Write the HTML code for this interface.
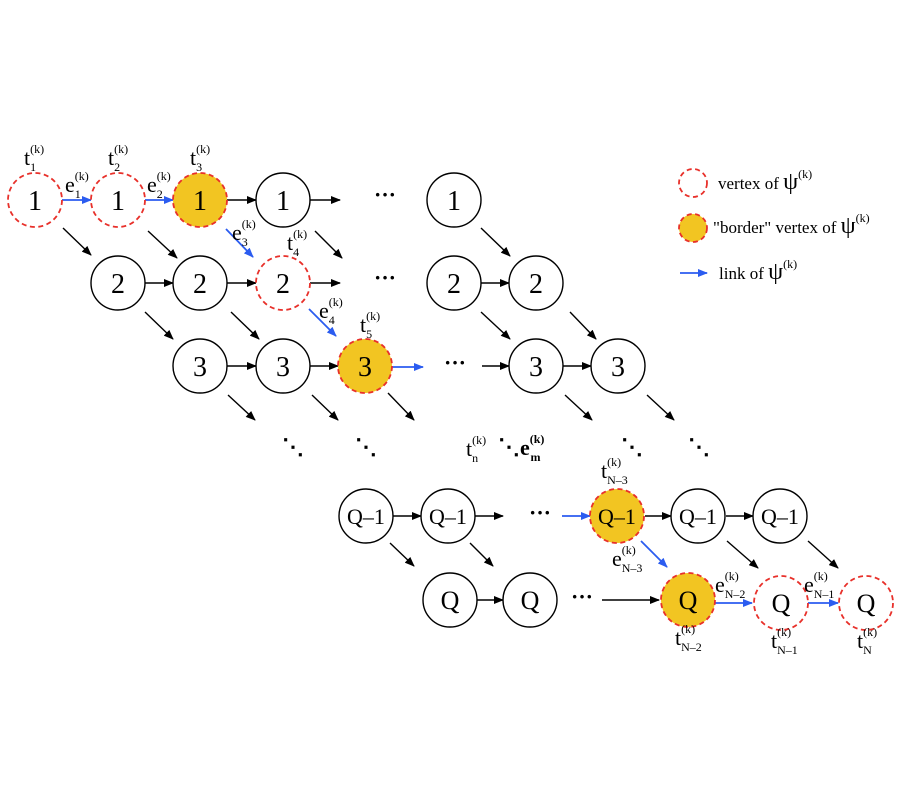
<!DOCTYPE html>
<html><head><meta charset="utf-8"><style>
html,body{margin:0;padding:0;background:#fff;}
svg{display:block;font-family:"Liberation Serif",serif;}
</style></head><body>
<svg width="900" height="800" viewBox="0 0 900 800" xmlns="http://www.w3.org/2000/svg">
<defs>
<marker id="ab" markerWidth="10" markerHeight="8" refX="9" refY="4" orient="auto" markerUnits="userSpaceOnUse"><path d="M0,0 L10,4 L0,8 z" fill="#000"/></marker>
<marker id="au" markerWidth="10" markerHeight="8" refX="9" refY="4" orient="auto" markerUnits="userSpaceOnUse"><path d="M0,0 L10,4 L0,8 z" fill="#2b5cf0"/></marker>
</defs>
<g fill="none" stroke-width="1.4">
<g stroke="#000" marker-end="url(#ab)">
<line x1="227" y1="200" x2="256" y2="200"/><line x1="310" y1="200" x2="340" y2="200"/>
<line x1="63" y1="228" x2="91" y2="255"/><line x1="148" y1="231" x2="177" y2="258"/><line x1="315" y1="231" x2="342" y2="258"/><line x1="481" y1="228" x2="510" y2="256"/>
<line x1="145" y1="283" x2="173" y2="283"/><line x1="227" y1="283" x2="256" y2="283"/><line x1="310" y1="283" x2="340" y2="283"/><line x1="481" y1="283" x2="509" y2="283"/>
<line x1="145" y1="312" x2="173" y2="339"/><line x1="231" y1="312" x2="259" y2="339"/><line x1="481" y1="312" x2="510" y2="339"/><line x1="570" y1="312" x2="596" y2="339"/>
<line x1="227" y1="366" x2="256" y2="366"/><line x1="310" y1="366" x2="338" y2="366"/><line x1="482" y1="366" x2="509" y2="366"/><line x1="563" y1="366" x2="591" y2="366"/>
<line x1="228" y1="395" x2="255" y2="420"/><line x1="312" y1="395" x2="338" y2="420"/><line x1="388" y1="393" x2="414" y2="420"/><line x1="565" y1="395" x2="592" y2="420"/><line x1="647" y1="395" x2="674" y2="420"/>
<line x1="393" y1="516" x2="421" y2="516"/><line x1="475" y1="516" x2="503" y2="516"/><line x1="645" y1="516" x2="671" y2="516"/><line x1="726" y1="516" x2="753" y2="516"/>
<line x1="390" y1="543" x2="414" y2="566"/><line x1="470" y1="543" x2="493" y2="566"/><line x1="727" y1="541" x2="758" y2="568"/><line x1="808" y1="541" x2="838" y2="568"/>
<line x1="476" y1="600" x2="503" y2="600"/><line x1="602" y1="600" x2="659" y2="600"/>
</g>
<g stroke="#2b5cf0" stroke-width="1.8" marker-end="url(#au)">
<line x1="62" y1="200" x2="91" y2="200"/><line x1="145" y1="200" x2="173" y2="200"/>
<line x1="226" y1="229" x2="253" y2="257"/><line x1="309" y1="309" x2="336" y2="336"/>
<line x1="392" y1="367" x2="423" y2="367"/><line x1="562" y1="516" x2="590" y2="516"/>
<line x1="641" y1="541" x2="667" y2="567"/><line x1="715" y1="603" x2="752" y2="603"/><line x1="808" y1="603" x2="838" y2="603"/>
<line x1="680" y1="273" x2="707" y2="273"/>
</g>
<g stroke="#000" fill="#fff">
<circle cx="283" cy="200" r="27"/><circle cx="454" cy="200" r="27"/>
<circle cx="118" cy="283" r="27"/><circle cx="200" cy="283" r="27"/><circle cx="454" cy="283" r="27"/><circle cx="536" cy="283" r="27"/>
<circle cx="200" cy="366" r="27"/><circle cx="283" cy="366" r="27"/><circle cx="536" cy="366" r="27"/><circle cx="618" cy="366" r="27"/>
<circle cx="366" cy="516" r="27"/><circle cx="448" cy="516" r="27"/><circle cx="698" cy="516" r="27"/><circle cx="780" cy="516" r="27"/>
<circle cx="450" cy="600" r="27"/><circle cx="530" cy="600" r="27"/>
</g>
<g stroke="#e8302a" stroke-dasharray="5,3.5" stroke-width="1.8" fill="#fff">
<circle cx="35" cy="200" r="27"/><circle cx="118" cy="200" r="27"/><circle cx="283" cy="283" r="27"/>
<circle cx="781" cy="603" r="27"/><circle cx="866" cy="603" r="27"/>
<circle cx="693" cy="183" r="14"/>
</g>
<g stroke="#e8302a" stroke-dasharray="5,3.5" stroke-width="1.8" fill="#f2c522">
<circle cx="200" cy="200" r="27"/><circle cx="365" cy="366" r="27"/><circle cx="617" cy="516" r="27"/><circle cx="688" cy="600" r="27"/>
<circle cx="693" cy="228" r="14"/>
</g>
</g>
<g font-size="28" text-anchor="middle" fill="#000">
<text x="35" y="210">1</text><text x="118" y="210">1</text><text x="200" y="210">1</text><text x="283" y="210">1</text><text x="454" y="210">1</text>
<text x="118" y="293">2</text><text x="200" y="293">2</text><text x="283" y="293">2</text><text x="454" y="293">2</text><text x="536" y="293">2</text>
<text x="200" y="376">3</text><text x="283" y="376">3</text><text x="365" y="376">3</text><text x="536" y="376">3</text><text x="618" y="376">3</text>
</g>
<g font-size="22" text-anchor="middle">
<text x="366" y="524">Q–1</text><text x="448" y="524">Q–1</text><text x="617" y="524">Q–1</text><text x="698" y="524">Q–1</text><text x="780" y="524">Q–1</text>
<text x="450" y="609" font-size="26">Q</text><text x="530" y="609" font-size="26">Q</text><text x="688" y="609" font-size="26">Q</text><text x="781" y="612" font-size="26">Q</text><text x="866" y="612" font-size="26">Q</text>
</g>
<g font-size="22" font-weight="bold" text-anchor="middle">
<text x="385" y="202">···</text><text x="385" y="285">···</text><text x="455" y="370">···</text><text x="540" y="520">···</text><text x="582" y="604">···</text>
</g>
<g font-size="22" font-weight="bold">
<text x="282" y="454">⋱</text><text x="355" y="454">⋱</text><text x="498" y="454">⋱</text><text x="621" y="454">⋱</text><text x="688" y="454">⋱</text>
</g>
<g font-size="22">
<text x="24" y="165">t<tspan font-size="12" dy="-12">(k)</tspan><tspan font-size="12" dx="-14" dy="18">1</tspan></text>
<text x="108" y="165">t<tspan font-size="12" dy="-12">(k)</tspan><tspan font-size="12" dx="-14" dy="18">2</tspan></text>
<text x="190" y="165">t<tspan font-size="12" dy="-12">(k)</tspan><tspan font-size="12" dx="-14" dy="18">3</tspan></text>
<text x="287" y="250">t<tspan font-size="12" dy="-12">(k)</tspan><tspan font-size="12" dx="-14" dy="18">4</tspan></text>
<text x="360" y="332">t<tspan font-size="12" dy="-12">(k)</tspan><tspan font-size="12" dx="-14" dy="18">5</tspan></text>
<text x="466" y="456">t<tspan font-size="12" dy="-12">(k)</tspan><tspan font-size="12" dx="-14" dy="18">n</tspan></text>
<text x="601" y="478">t<tspan font-size="12" dy="-12">(k)</tspan><tspan font-size="12" dx="-14" dy="18">N–3</tspan></text>
<text x="675" y="645">t<tspan font-size="12" dy="-12">(k)</tspan><tspan font-size="12" dx="-14" dy="18">N–2</tspan></text>
<text x="771" y="648">t<tspan font-size="12" dy="-12">(k)</tspan><tspan font-size="12" dx="-14" dy="18">N–1</tspan></text>
<text x="857" y="648">t<tspan font-size="12" dy="-12">(k)</tspan><tspan font-size="12" dx="-14" dy="18">N</tspan></text>
<text x="65" y="192">e<tspan font-size="12" dy="-12">(k)</tspan><tspan font-size="12" dx="-14" dy="18">1</tspan></text>
<text x="147" y="192">e<tspan font-size="12" dy="-12">(k)</tspan><tspan font-size="12" dx="-14" dy="18">2</tspan></text>
<text x="232" y="240">e<tspan font-size="12" dy="-12">(k)</tspan><tspan font-size="12" dx="-14" dy="18">3</tspan></text>
<text x="319" y="318">e<tspan font-size="12" dy="-12">(k)</tspan><tspan font-size="12" dx="-14" dy="18">4</tspan></text>
<text x="520" y="455" font-weight="bold">e<tspan font-size="12" dy="-12">(k)</tspan><tspan font-size="12" dx="-14" dy="18">m</tspan></text>
<text x="612" y="566">e<tspan font-size="12" dy="-12">(k)</tspan><tspan font-size="12" dx="-14" dy="18">N–3</tspan></text>
<text x="715" y="592">e<tspan font-size="12" dy="-12">(k)</tspan><tspan font-size="12" dx="-14" dy="18">N–2</tspan></text>
<text x="804" y="592">e<tspan font-size="12" dy="-12">(k)</tspan><tspan font-size="12" dx="-14" dy="18">N–1</tspan></text>
</g>
<g font-size="17">
<text x="718" y="189">vertex of <tspan font-size="24">ψ</tspan><tspan font-size="12" dy="-11">(k)</tspan></text>
<text x="713" y="233">"border" vertex of <tspan font-size="24">ψ</tspan><tspan font-size="12" dy="-11">(k)</tspan></text>
<text x="719" y="279">link of <tspan font-size="24">ψ</tspan><tspan font-size="12" dy="-11">(k)</tspan></text>
</g>
</svg>
</body></html>
